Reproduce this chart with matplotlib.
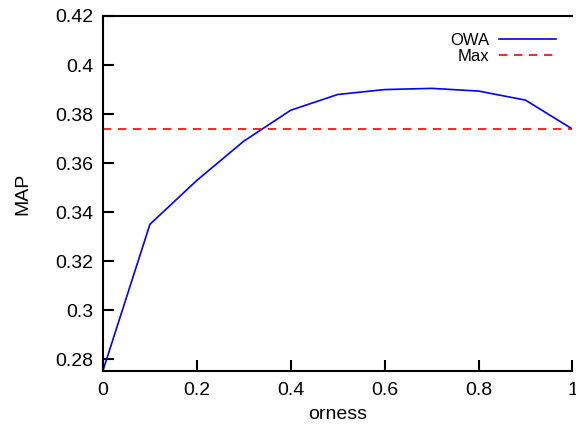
import matplotlib
matplotlib.use("Agg")
import matplotlib.pyplot as plt

plt.rcParams['font.family'] = ['Liberation Sans', 'DejaVu Sans']

# data
orness = [0.0, 0.1, 0.2, 0.3, 0.4, 0.5, 0.6, 0.7, 0.8, 0.9, 1.0]
owa_map = [0.2755, 0.3351, 0.3530, 0.3690, 0.3816, 0.3880, 0.3900, 0.3905, 0.3894, 0.3857, 0.3739]
max_map = 0.3738

x_ticks = [0, 0.2, 0.4, 0.6, 0.8, 1]
x_labels = ["0", "0.2", "0.4", "0.6", "0.8", "1"]
y_ticks = [0.28, 0.30, 0.32, 0.34, 0.36, 0.38, 0.40, 0.42]
y_labels = ["0.28", "0.3", "0.32", "0.34", "0.36", "0.38", "0.4", "0.42"]

fig = plt.figure(figsize=(5.76, 4.25), dpi=100)
ax = fig.add_axes([0.1788, 0.127, 0.8151, 0.8354])

ax.plot(orness, owa_map, color="blue", lw=1.2, label="OWA")
ax.axhline(max_map, color="red", lw=1.2, ls=(0, (5, 4)), label="Max")

ax.set_xlim(0, 1)
ax.set_ylim(0.2753, 0.42)
ax.set_xticks(x_ticks)
ax.set_xticklabels(x_labels)
ax.set_yticks(y_ticks)
ax.set_yticklabels(y_labels)
ax.tick_params(direction="in", length=8, width=1.5, labelsize=14)
ax.tick_params(axis="y", pad=7)
ax.tick_params(axis="x", pad=8)

for s in ax.spines.values():
    s.set_linewidth(1.5)
ax.spines["right"].set_visible(False)  # cut off at the image edge in the reference

ax.set_xlabel("orness", fontsize=14, labelpad=5)
ax.set_ylabel("MAP", fontsize=14, labelpad=17)

ax.legend(loc="upper right", bbox_to_anchor=(0.99, 0.985), frameon=False,
          markerfirst=False, fontsize=12, handlelength=3.4, labelspacing=0.05,
          handletextpad=0.6, borderaxespad=0.3)

fig.savefig("out.png", dpi=100)
